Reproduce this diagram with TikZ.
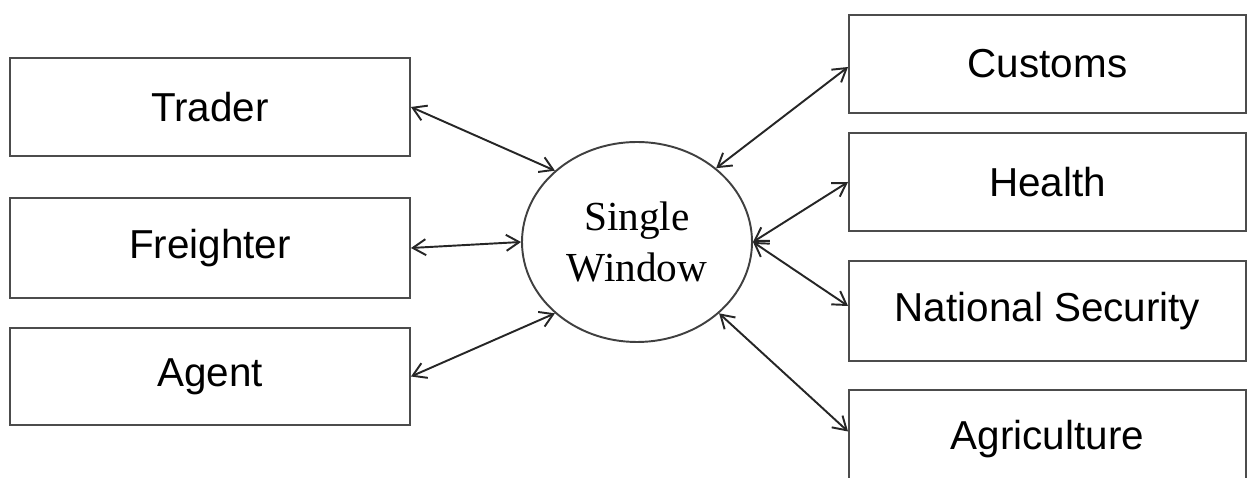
\documentclass[tikz,border=0pt]{standalone}
\usepackage{fontspec}
\setmainfont{Liberation Serif}
\setsansfont{Liberation Sans}
\usepackage{tikz}
\usetikzlibrary{shapes.geometric, arrows.meta}

\begin{document}
\begin{tikzpicture}[
        party/.style={draw=black!70, line width=1.1pt, minimum width=8cm, minimum height=1.96cm,
            font=\sffamily\fontsize{23}{27}\selectfont},
        agency/.style={party, minimum width=7.94cm},
        hub/.style={draw=black!75, line width=1.1pt, ellipse, inner sep=0pt, minimum width=4.6cm,
            minimum height=4cm, align=center, font=\fontsize{23.5}{29}\selectfont},
        link/.style={black!85, line width=1.1pt,
            {Straight Barb[length=2.6mm,width=3.2mm]}-{Straight Barb[length=2.6mm,width=3.2mm]}}
    ]
            \useasboundingbox (0.0, 0.0) rectangle (25.0, 9.56);

            \node[hub] (sw) at (12.74, 4.72) {Single\\Window};

            \node[party] (trader) at (4.2, 7.42) {Trader};
            \node[party, minimum height=2.0cm] (freighter) at (4.2, 4.6) {Freighter};
            \node[party, minimum height=1.94cm] (agent) at (4.2, 2.03) {Agent};

            \node[agency] (customs) at (20.95, 8.28) {Customs};
            \node[agency] (health) at (20.95, 5.92) {Health};
            \node[agency, minimum height=2.0cm] (natsec) at (20.95, 3.34) {National Security};
            \node[agency] (agri) at (20.95, 0.78) {Agriculture};

            \draw[link] (trader.east) -- (sw.139); % trader-sw
            \draw[link] (freighter.east) -- (sw.180); % freighter-sw
            \draw[link] (agent.east) -- (sw.221); % agent-sw
            \draw[link] (sw.43) -- ([yshift=-0.6mm]customs.west); % sw-customs
            \draw[link] (sw.0) -- (health.west); % sw-health
            \draw[link] (sw.0) -- ([yshift=1mm]natsec.west); % sw-natsec
            \draw[link] (sw.319) -- ([yshift=1.5mm]agri.west); % sw-agri
        \end{tikzpicture}
\end{document}
